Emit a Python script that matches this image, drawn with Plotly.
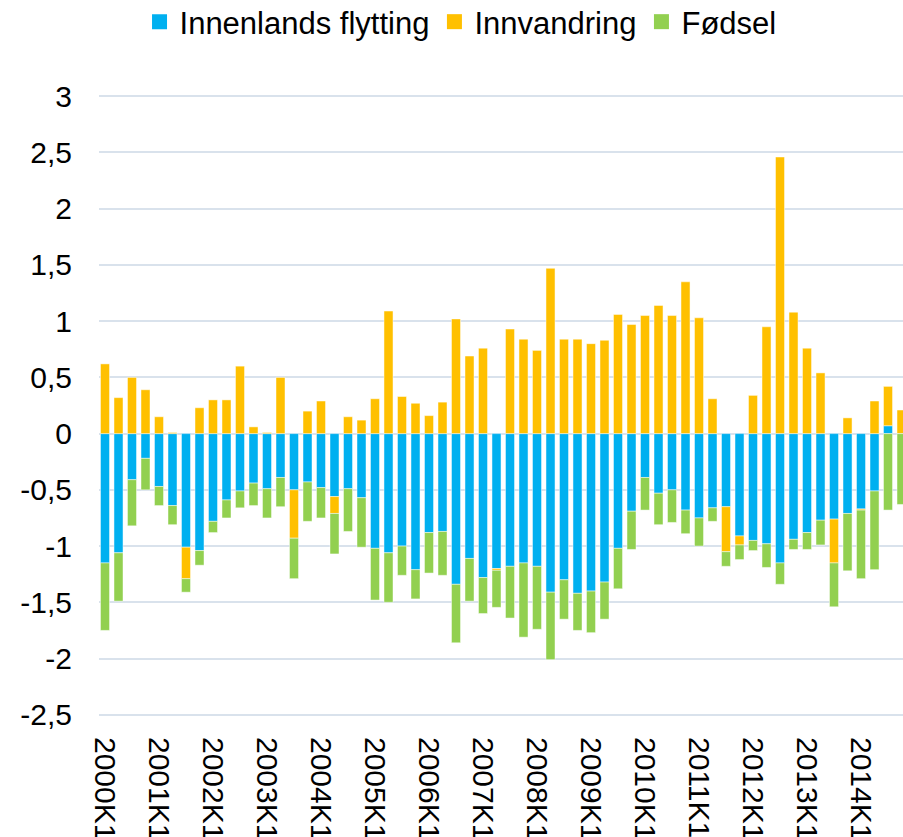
import plotly.graph_objects as go

years = list(range(2000, 2015))
quarters = [f"{y}K{q}" for y in years for q in (1, 2, 3, 4)]

innenlands = [-1.15, -1.06, -0.41, -0.22, -0.47, -0.64, -1.01, -1.04, -0.78, -0.59,
              -0.51, -0.44, -0.49, -0.39, -0.50, -0.43, -0.48, -0.56, -0.49, -0.57,
              -1.02, -1.06, -1.00, -1.21, -0.88, -0.87, -1.34, -1.11, -1.28, -1.20,
              -1.18, -1.15, -1.18, -1.41, -1.30, -1.42, -1.40, -1.32, -1.02, -0.69,
              -0.39, -0.53, -0.50, -0.68, -0.75, -0.66, -0.65, -0.91, -0.95, -0.98,
              -1.15, -0.94, -0.88, -0.77, -0.76, -0.71, -0.67, -0.51, 0.07, 0.0]
innvandring = [0.62, 0.32, 0.50, 0.39, 0.15, 0.01, -0.28, 0.23, 0.30, 0.30,
               0.60, 0.06, 0.01, 0.50, -0.43, 0.20, 0.29, -0.15, 0.15, 0.12,
               0.31, 1.09, 0.33, 0.27, 0.16, 0.28, 1.02, 0.69, 0.76, -0.015,
               0.93, 0.84, 0.74, 1.47, 0.84, 0.84, 0.80, 0.83, 1.06, 0.97,
               1.05, 1.14, 1.05, 1.35, 1.03, 0.31, -0.40, -0.08, 0.34, 0.95,
               2.46, 1.08, 0.76, 0.54, -0.39, 0.14, -0.01, 0.29, 0.35, 0.21]
fodsel = [-0.60, -0.43, -0.41, -0.28, -0.17, -0.17, -0.12, -0.13, -0.10, -0.16,
          -0.15, -0.20, -0.26, -0.26, -0.36, -0.35, -0.27, -0.36, -0.38, -0.44,
          -0.46, -0.44, -0.26, -0.26, -0.36, -0.39, -0.52, -0.38, -0.32, -0.33,
          -0.46, -0.66, -0.56, -0.60, -0.35, -0.33, -0.37, -0.33, -0.36, -0.34,
          -0.29, -0.28, -0.29, -0.21, -0.25, -0.12, -0.13, -0.13, -0.09, -0.21,
          -0.19, -0.09, -0.15, -0.22, -0.39, -0.51, -0.61, -0.70, -0.68, -0.63]

x_tickvals = [f"{y}K1" for y in years]
y_tickvals = [3, 2.5, 2, 1.5, 1, 0.5, 0, -0.5, -1, -1.5, -2, -2.5]
y_ticktext = ["3", "2,5", "2", "1,5", "1", "0,5", "0", "-0,5", "-1", "-1,5", "-2", "-2,5"]

series = [
    ("Innenlands flytting", innenlands, "#00B0F0"),
    ("Innvandring", innvandring, "#FFC000"),
    ("Fødsel", fodsel, "#92D050"),
]

font_family = "Liberation Sans, Arial, sans-serif"

fig = go.Figure()
for name, vals, color in series:
    fig.add_trace(go.Bar(
        x=quarters, y=vals, name=name, showlegend=False, legendgroup=name,
        marker=dict(color=color, line=dict(color="rgba(255,255,255,0.6)", width=0.8)),
    ))
# legend entries with larger square swatches
for name, vals, color in series:
    fig.add_trace(go.Scatter(
        x=[quarters[0]], y=[None], name=name, mode="markers", legendgroup=name,
        marker=dict(symbol="square", size=15, color=color),
        hoverinfo="skip",
    ))

fig.update_layout(
    width=903, height=837,
    barmode="relative",
    bargap=0.33,
    plot_bgcolor="white",
    paper_bgcolor="white",
    margin=dict(l=99, r=0, t=94, b=120, autoexpand=False),
    font=dict(family=font_family, size=30, color="#000000"),
    legend=dict(
        orientation="h",
        xref="container", x=0.51, xanchor="center",
        yref="container", y=0.9737, yanchor="middle",
        font=dict(size=31, family=font_family, color="#000000"),
        itemsizing="trace",
    ),
    showlegend=True,
)
fig.update_xaxes(
    type="category",
    range=[-0.444, 59.11],
    tickmode="array",
    tickvals=x_tickvals,
    ticktext=x_tickvals,
    tickangle=90,
    showgrid=False,
    showline=False,
    ticks="",
    automargin=False,
    ticklabelstandoff=19,
    tickfont=dict(size=30, family=font_family, color="#000000"),
)
fig.update_yaxes(
    range=[-2.52, 3.02],
    tickmode="array",
    tickvals=y_tickvals,
    ticktext=y_ticktext,
    showgrid=True,
    gridcolor="#D9E2EC",
    gridwidth=1.5,
    zeroline=False,
    showline=False,
    ticks="",
    automargin=False,
    ticklabelstandoff=26,
    tickfont=dict(size=30, family=font_family, color="#000000"),
)

fig.write_html(
    "out.html",
    config={"displayModeBar": False},
    post_script="document.body.style.margin='0';document.body.style.overflow='hidden';",
)
